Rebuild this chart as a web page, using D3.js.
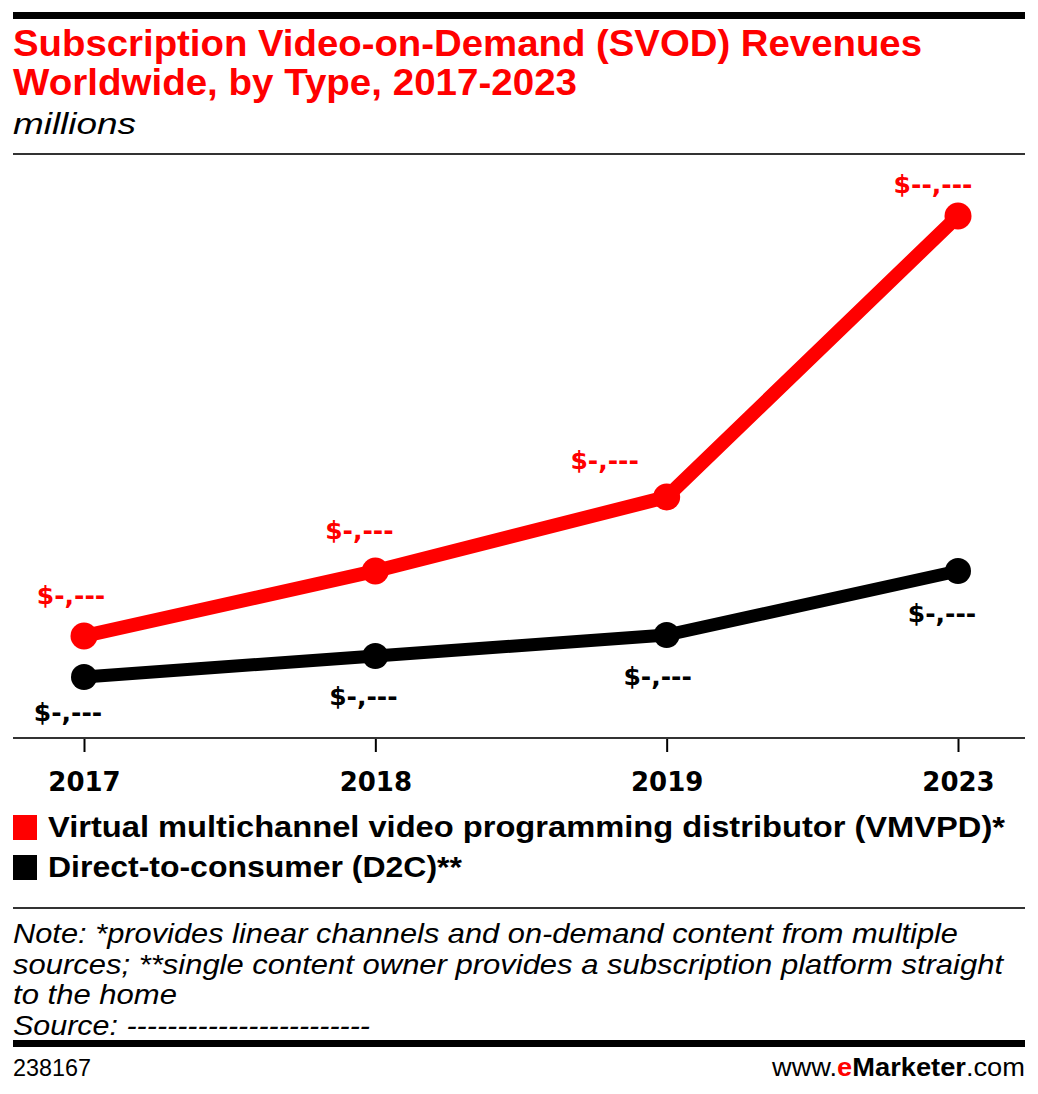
<!DOCTYPE html>
<html>
<head>
<meta charset="utf-8">
<script src="https://cdn.jsdelivr.net/npm/d3@7"></script>
<style>
  body { margin: 0; background: #fff; }
  svg { display: block; }
</style>
</head>
<body>
<script>
// Data (values not disclosed in the original)
const years = ["2017", "2018", "2019", "2023"];
const vmvpd = [2040, 3340, 4820, 10440];
const d2c = [1220, 1640, 2060, 3340];
const vmvpdLabels = ["$-,---", "$-,---", "$-,---", "$--,---"];
const d2cLabels = ["$-,---", "$-,---", "$-,---", "$-,---"];
const seriesNames = [
    "Virtual multichannel video programming distributor (VMVPD)*",
    "Direct-to-consumer (D2C)**"
];
const noteLines = [
    "Note: *provides linear channels and on-demand content from multiple",
    "sources; **single content owner provides a subscription platform straight",
    "to the home",
    "Source: ------------------------"
];

const width = 1038;
const height = 1094;
const left = 13, right = 1025;
const red = "#ff0000";
const sans = "'Liberation Sans', Arial, Helvetica, sans-serif";
const wide = "'DejaVu Sans', Verdana, sans-serif";

// label nudges [dx, dy] relative to each point
const redNudge = [[-13, -32], [-16, -32], [-62, -28], [-25, -23]];
const blackNudge = [[-16, 44], [-12, 49], [-9, 50], [-16, 51]];

const svg = d3.select("body").append("svg")
    .attr("width", width)
    .attr("height", height);

// squeeze or stretch a text to the width it has in the picture
function fit(sel, target) {
    return sel.attr("textLength", target).attr("lengthAdjust", "spacingAndGlyphs");
}

// top rule
svg.append("rect").attr("x", left).attr("y", 12).attr("width", right - left).attr("height", 7).attr("fill", "#000");

// title
fit(svg.append("text").attr("x", left).attr("y", 56)
    .attr("font-family", sans).attr("font-weight", 700).attr("font-size", 36)
    .attr("fill", red).text("Subscription Video-on-Demand (SVOD) Revenues"), 909);
fit(svg.append("text").attr("x", left).attr("y", 95)
    .attr("font-family", sans).attr("font-weight", 700).attr("font-size", 36)
    .attr("fill", red).text("Worldwide, by Type, 2017-2023"), 564);
fit(svg.append("text").attr("x", left).attr("y", 134)
    .attr("font-family", sans).attr("font-style", "italic").attr("font-size", 29)
    .attr("fill", "#000").text("millions"), 123);

svg.append("rect").attr("x", left).attr("y", 153).attr("width", right - left).attr("height", 2).attr("fill", "#333");

// scales
const x = d3.scalePoint().domain(years).range([84, 958]);
const y = d3.scaleLinear().domain([0, 11680]).range([738, 154]);

// axis
const axis = d3.axisBottom(x).tickSize(14).tickPadding(21).tickSizeOuter(0);
const axisG = svg.append("g").attr("transform", "translate(0,738)").call(axis);
axisG.select(".domain").remove();
axisG.selectAll(".tick line").attr("stroke", "#000").attr("stroke-width", 2);
axisG.selectAll(".tick text")
    .attr("font-family", wide).attr("font-weight", 700).attr("font-size", 26).attr("fill", "#000");
svg.append("rect").attr("x", left).attr("y", 737).attr("width", right - left).attr("height", 2).attr("fill", "#333");

const line = d3.line().x((d, i) => x(years[i])).y(d => y(d));

function drawSeries(values, color, strokeW, radius, labels, nudge) {
    svg.append("path").datum(values)
        .attr("d", line)
        .attr("fill", "none")
        .attr("stroke", color)
        .attr("stroke-width", strokeW)
        .attr("stroke-linejoin", "round");
    svg.append("g").selectAll("circle").data(values).enter().append("circle")
        .attr("cx", (d, i) => x(years[i]))
        .attr("cy", d => y(d))
        .attr("r", radius)
        .attr("fill", color);
    svg.append("g").selectAll("text").data(values).enter().append("text")
        .attr("x", (d, i) => x(years[i]) + nudge[i][0])
        .attr("y", (d, i) => y(d) + nudge[i][1])
        .attr("text-anchor", "middle")
        .attr("font-family", wide).attr("font-weight", 700).attr("font-size", 25)
        .attr("fill", color)
        .text((d, i) => labels[i]);
}

drawSeries(d2c, "#000", 13, 13, d2cLabels, blackNudge);
drawSeries(vmvpd, red, 14, 13.5, vmvpdLabels, redNudge);

// legend
const legendColors = [red, "#000"];
const legendTargets = [957, 414];
seriesNames.forEach((name, i) => {
    const ly = 815 + i * 40;
    svg.append("rect").attr("x", left).attr("y", ly).attr("width", 24).attr("height", 25).attr("fill", legendColors[i]);
    fit(svg.append("text").attr("x", 48).attr("y", ly + 22)
        .attr("font-family", sans).attr("font-weight", 700).attr("font-size", 29)
        .attr("fill", "#000").text(name), legendTargets[i]);
});

svg.append("rect").attr("x", left).attr("y", 907).attr("width", right - left).attr("height", 2).attr("fill", "#333");

// notes
const noteTargets = [945, 990, 164, 357];
noteLines.forEach((t, i) => {
    fit(svg.append("text").attr("x", left).attr("y", 943 + i * 30.5)
        .attr("font-family", sans).attr("font-style", "italic").attr("font-size", 28)
        .attr("fill", "#000").text(t), noteTargets[i]);
});

svg.append("rect").attr("x", left).attr("y", 1040).attr("width", right - left).attr("height", 7).attr("fill", "#000");

// footer
fit(svg.append("text").attr("x", left).attr("y", 1076)
    .attr("font-family", sans).attr("font-size", 24).attr("fill", "#000").text("238167"), 78);

const brand = svg.append("text").attr("x", right).attr("y", 1076)
    .attr("text-anchor", "end")
    .attr("font-family", sans).attr("font-size", 25).attr("fill", "#000");
brand.append("tspan").text("www.");
brand.append("tspan").attr("fill", red).attr("font-weight", 700).text("e");
brand.append("tspan").attr("font-weight", 700).text("Marketer");
brand.append("tspan").text(".com");
fit(brand, 253);
</script>
</body>
</html>
